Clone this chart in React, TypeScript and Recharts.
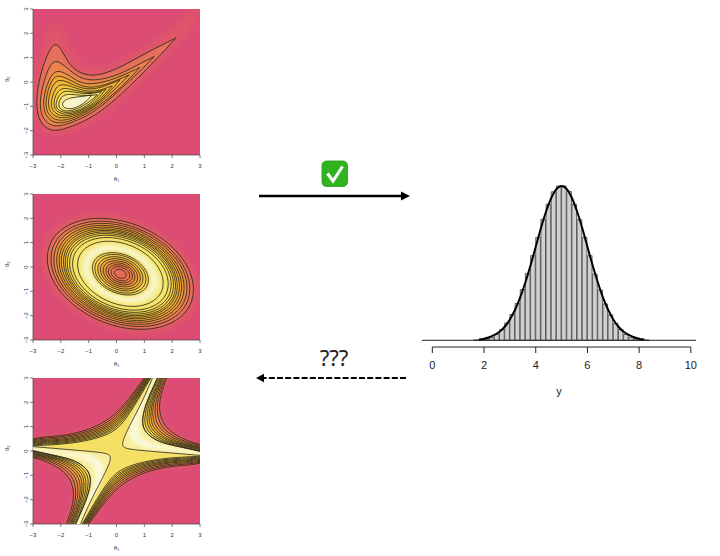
import React from "react";
import {
  Bar,
  CartesianGrid,
  ComposedChart,
  Line,
  ReferenceLine,
  Scatter,
  ScatterChart,
  XAxis,
  YAxis,
} from "recharts";

type Pair = [number, number];
type Contour = { pairs: Pair[]; fill: string; outline?: boolean; blur?: number };

const thetaTicks = [-3, -2, -1, 0, 1, 2, 3];

// soft halo under the top panel contours
const bananaGlow: Pair[] = [[3.3,3.3],[3.0,3.3],[2.0,2.1],[1.2,1.6],[.3,.9],[-.9,.4],[-1.6,1.0],[-1.9,2.0],[-2.2,2.6],[-2.5,2.0],[-3.0,.2],[-3.1,-1.2],[-2.6,-2.2],[-1.8,-2.2],[-.3,-1.3],[1.2,.4],[2.3,1.6]];
// top panel, outer contour first, tips listed three times so they stay sharp
const bananaContours: Pair[][] = [
  [[2.13,1.81],[2.13,1.81],[2.13,1.81],[1.44,1.42],[.84,1.05],[.25,.68],[-.35,.36],[-.95,.23],[-1.43,.43],[-1.73,.78],[-1.97,1.33],[-2.17,1.62],[-2.39,1.39],[-2.63,.71],[-2.81,-.05],[-2.89,-.87],[-2.81,-1.49],[-2.57,-1.90],[-2.21,-2.03],[-1.79,-1.90],[-1.07,-1.59],[-.35,-1.03],[.37,-.30],[1.08,.52],[1.80,1.37]],
  [[1.35,1.05],[1.35,1.05],[1.35,1.05],[.84,.75],[.25,.39],[-.35,.14],[-.95,.05],[-1.37,.20],[-1.73,.53],[-2.03,.82],[-2.25,.88],[-2.45,.57],[-2.65,-.12],[-2.77,-.87],[-2.69,-1.42],[-2.45,-1.74],[-2.15,-1.84],[-1.73,-1.72],[-1.07,-1.42],[-.35,-.84],[.37,-.05],[.96,.57]],
  [[.84,.60],[.84,.60],[.84,.60],[.37,.34],[-.23,.06],[-.83,-.10],[-1.31,-.05],[-1.73,.30],[-2.09,.49],[-2.33,.34],[-2.53,-.19],[-2.65,-.87],[-2.57,-1.35],[-2.33,-1.63],[-2.03,-1.71],[-1.61,-1.59],[-1.01,-1.28],[-.29,-.69],[.37,.02]],
  [[.46,.30],[.46,.30],[.46,.30],[0,.06],[-.59,-.19],[-1.13,-.25],[-1.61,.05],[-2.03,.28],[-2.27,.20],[-2.45,-.25],[-2.56,-.87],[-2.49,-1.28],[-2.27,-1.53],[-1.97,-1.60],[-1.55,-1.49],[-.95,-1.17],[-.29,-.56],[.19,-.02]],
  [[.13,.09],[.13,.09],[.13,.09],[-.29,-.12],[-.83,-.32],[-1.31,-.25],[-1.73,-.01],[-2.03,.10],[-2.23,-.01],[-2.39,-.39],[-2.47,-.90],[-2.39,-1.22],[-2.21,-1.42],[-1.91,-1.50],[-1.49,-1.39],[-.89,-1.08],[-.35,-.53]],
  [[-.15,-.16],[-.15,-.16],[-.15,-.16],[-.59,-.35],[-1.07,-.41],[-1.55,-.21],[-1.91,-.08],[-2.15,-.16],[-2.29,-.53],[-2.37,-.91],[-2.29,-1.17],[-2.13,-1.35],[-1.85,-1.41],[-1.43,-1.31],[-.89,-1.01],[-.47,-.57]],
  [[-.38,-.30],[-.38,-.30],[-.38,-.30],[-.83,-.46],[-1.31,-.41],[-1.73,-.25],[-2.03,-.27],[-2.19,-.53],[-2.27,-.90],[-2.20,-1.15],[-2.03,-1.28],[-1.79,-1.34],[-1.37,-1.23],[-.89,-.94],[-.59,-.60]],
  [[-.53,-.39],[-.53,-.39],[-.53,-.39],[-.95,-.50],[-1.37,-.45],[-1.73,-.36],[-1.97,-.41],[-2.13,-.67],[-2.19,-.94],[-2.13,-1.12],[-1.97,-1.23],[-1.73,-1.27],[-1.31,-1.15],[-.95,-.90],[-.69,-.60]],
  [[-.68,-.52],[-.68,-.52],[-1.07,-.57],[-1.49,-.52],[-1.81,-.49],[-2.01,-.63],[-2.09,-.90],[-2.05,-1.08],[-1.91,-1.19],[-1.67,-1.20],[-1.31,-1.06],[-.95,-.80]],
  [[-.89,-.53],[-.89,-.53],[-1.25,-.60],[-1.67,-.64],[-1.91,-.78],[-1.96,-.94],[-1.87,-1.08],[-1.61,-1.12],[-1.31,-.98],[-1.05,-.78]],
];
const bananaFills = ["#e4705c", "#ea8450", "#ee9840", "#f0a838", "#f2b838", "#f4c63c", "#f5d346", "#f5de58", "#f6ea84", "#f8f4cc"];

// middle panel
const ringGlow: Pair[] = [[3.01,-2.05],[3.08,-.05],[1.43,1.80],[-.98,2.44],[-2.73,1.49],[-2.80,-.51],[-1.15,-2.36],[1.26,-3.0]];
const ringOuter: Pair[][] = [
  [[2.80,-1.92],[2.86,-.07],[1.33,1.65],[-.90,2.24],[-2.52,1.36],[-2.58,-.49],[-1.05,-2.21],[1.18,-2.80]],
  [[2.67,-1.84],[2.72,-.08],[1.27,1.55],[-.85,2.11],[-2.39,1.28],[-2.44,-.48],[-.99,-2.11],[1.13,-2.67]],
  [[2.56,-1.77],[2.62,-.09],[1.22,1.48],[-.81,2.01],[-2.28,1.21],[-2.34,-.47],[-.94,-2.04],[1.09,-2.57]],
  [[2.46,-1.71],[2.51,-.10],[1.18,1.40],[-.77,1.92],[-2.18,1.15],[-2.23,-.46],[-.90,-1.96],[1.05,-2.48]],
  [[2.37,-1.66],[2.42,-.10],[1.14,1.34],[-.73,1.84],[-2.09,1.10],[-2.14,-.46],[-.86,-1.90],[1.01,-2.40]],
  [[2.29,-1.61],[2.34,-.11],[1.10,1.28],[-.70,1.76],[-2.01,1.05],[-2.06,-.45],[-.82,-1.84],[.98,-2.32]],
  [[2.21,-1.56],[2.26,-.12],[1.07,1.23],[-.67,1.69],[-1.93,1.00],[-1.98,-.44],[-.79,-1.79],[.95,-2.25]],
  [[2.15,-1.52],[2.19,-.12],[1.04,1.18],[-.65,1.62],[-1.87,.96],[-1.91,-.44],[-.76,-1.74],[.93,-2.18]],
  [[2.07,-1.47],[2.12,-.13],[1.01,1.12],[-.62,1.55],[-1.79,.91],[-1.84,-.43],[-.73,-1.68],[.90,-2.11]],
  [[1.99,-1.42],[2.03,-.13],[.97,1.06],[-.58,1.47],[-1.71,.86],[-1.75,-.43],[-.69,-1.62],[.86,-2.03]],
  [[1.88,-1.35],[1.92,-.14],[.92,.98],[-.54,1.37],[-1.60,.79],[-1.64,-.42],[-.64,-1.54],[.82,-1.93]],
  [[1.70,-1.24],[1.73,-.16],[.84,.85],[-.47,1.20],[-1.42,.68],[-1.45,-.40],[-.56,-1.41],[.75,-1.76]],
];
const ringOuterFills = ["#e4705c", "#e87c52", "#ec8c44", "#ee9c3a", "#f0aa36", "#f2b636", "#f4c23a", "#f5cc42", "#f5d64e", "#f5de5c", "#f5e468", "#f5e878"];
// colour steps of the pale band, no line drawn in the picture here
const ringBand: Pair[][] = [
  [[1.58,-1.17],[1.61,-.17],[.78,.76],[-.42,1.08],[-1.30,.61],[-1.33,-.39],[-.50,-1.32],[.70,-1.64]],
  [[1.44,-1.08],[1.47,-.18],[.72,.67],[-.37,.95],[-1.16,.52],[-1.19,-.38],[-.44,-1.23],[.65,-1.51]],
  [[1.31,-1.00],[1.34,-.19],[.66,.57],[-.32,.83],[-1.03,.44],[-1.06,-.37],[-.38,-1.13],[.60,-1.39]],
  [[1.23,-.95],[1.26,-.19],[.63,.51],[-.29,.75],[-.95,.39],[-.98,-.37],[-.35,-1.07],[.57,-1.31]],
];
const ringBandFills = ["#f7f0a8", "#f8f5d0", "#f7f0a8", "#f5e680"];
const ringInner: Pair[][] = [
  [[1.16,-.91],[1.18,-.20],[.59,.46],[-.26,.68],[-.88,.35],[-.90,-.36],[-.31,-1.02],[.54,-1.24]],
  [[1.07,-.85],[1.09,-.21],[.56,.40],[-.22,.60],[-.79,.29],[-.81,-.35],[-.28,-.96],[.50,-1.16]],
  [[.96,-.79],[.98,-.21],[.51,.32],[-.18,.50],[-.68,.23],[-.70,-.35],[-.23,-.88],[.46,-1.06]],
  [[.87,-.73],[.88,-.22],[.46,.25],[-.14,.41],[-.59,.17],[-.60,-.34],[-.18,-.81],[.42,-.97]],
  [[.77,-.67],[.78,-.23],[.42,.18],[-.11,.31],[-.49,.11],[-.50,-.33],[-.14,-.74],[.39,-.87]],
  [[.67,-.61],[.68,-.24],[.38,.11],[-.07,.22],[-.39,.05],[-.40,-.32],[-.10,-.67],[.35,-.78]],
  [[.58,-.55],[.59,-.25],[.34,.04],[-.03,.13],[-.30,-.01],[-.31,-.31],[-.06,-.60],[.31,-.69]],
  [[.48,-.49],[.49,-.25],[.29,-.03],[.01,.04],[-.20,-.07],[-.21,-.31],[-.01,-.53],[.27,-.60]],
  [[.36,-.41],[.36,-.26],[.24,-.12],[.05,-.07],[-.08,-.15],[-.08,-.30],[.04,-.44],[.23,-.49]],
];
const ringInnerFills = ["#f5d858", "#f4cc4a", "#f2bc40", "#f0a83a", "#ee983e", "#ec8846", "#ea7c4c", "#e87252", "#e66a58"];

// bottom panel: upper-left branch of each level, left edge to top edge
const crossUpperLeft: Pair[][] = [
  [[-3.4,.53],[-2.15,.60],[-1.43,.73],[-.71,1.01],[-.11,1.42],[.43,2.11],[.99,3],[1.25,3.4]],
  [[-3.4,.48],[-2.15,.55],[-1.39,.68],[-.66,.95],[-.08,1.35],[.46,2.06],[1.03,3],[1.28,3.4]],
  [[-3.4,.44],[-2.15,.50],[-1.36,.63],[-.62,.90],[-.04,1.28],[.49,2.02],[1.06,3],[1.31,3.4]],
  [[-3.4,.40],[-2.15,.45],[-1.33,.58],[-.58,.85],[-.01,1.22],[.51,1.98],[1.09,3],[1.33,3.4]],
  [[-3.4,.36],[-2.15,.41],[-1.30,.54],[-.54,.80],[.01,1.17],[.53,1.94],[1.12,3],[1.36,3.4]],
  [[-3.4,.32],[-2.15,.37],[-1.27,.50],[-.51,.76],[.04,1.11],[.55,1.91],[1.15,3],[1.38,3.4]],
  [[-3.4,.29],[-2.15,.33],[-1.25,.46],[-.47,.71],[.06,1.06],[.57,1.87],[1.17,3],[1.40,3.4]],
  [[-3.4,.25],[-2.15,.29],[-1.22,.42],[-.44,.67],[.09,1.01],[.60,1.84],[1.20,3],[1.43,3.4]],
  [[-3.4,.21],[-2.15,.25],[-1.19,.38],[-.40,.62],[.12,.95],[.62,1.80],[1.23,3],[1.45,3.4]],
];
// upper-right branch of each level, top edge to right edge
const crossUpperRight: Pair[][] = [
  [[1.95,3.4],[1.80,3],[1.59,2.31],[1.51,1.70],[1.68,1.01],[2.28,.53],[3,.25],[3.4,.20]],
  [[1.90,3.4],[1.75,3],[1.52,2.29],[1.43,1.68],[1.56,.99],[2.15,.51],[2.87,.24],[3.4,.16]],
  [[1.86,3.4],[1.70,3],[1.46,2.27],[1.35,1.66],[1.45,.97],[2.04,.49],[2.74,.24],[3.4,.11]],
  [[1.82,3.4],[1.66,3],[1.40,2.26],[1.27,1.64],[1.35,.95],[1.93,.47],[2.62,.23],[3.4,.07]],
  [[1.78,3.4],[1.62,3],[1.35,2.24],[1.21,1.62],[1.26,.93],[1.83,.45],[2.51,.23],[3.4,.04]],
  [[1.74,3.4],[1.59,3],[1.30,2.23],[1.15,1.60],[1.17,.92],[1.73,.44],[2.42,.22],[3.4,.01]],
  [[1.71,3.4],[1.55,3],[1.25,2.21],[1.08,1.59],[1.09,.90],[1.64,.42],[2.32,.22],[3.4,-.03]],
  [[1.67,3.4],[1.51,3],[1.19,2.20],[1.02,1.57],[.99,.89],[1.54,.41],[2.21,.21],[3.4,-.06]],
  [[1.63,3.4],[1.47,3],[1.14,2.18],[.95,1.55],[.90,.87],[1.44,.39],[2.10,.21],[3.4,-.10]],
];
// pale ridge above the saddle, upper right half, and its bright core
const crossRidge: Pair[] = [[1.63,3.4],[1.47,3],[1.14,2.18],[.95,1.55],[.90,.87],[1.44,.39],[2.10,.21],[3.4,-.10],[3.4,-.22],[3,-.18],[2.04,-.09],[1.20,-.01],[.34,.08],[.19,.21],[.25,.53],[.55,1.22],[.90,1.97],[1.30,3],[1.42,3.4]];
const crossCore: Pair[] = [[1.50,3.4],[1.40,3],[1.05,2.15],[.86,1.55],[.72,.85],[.95,.42],[1.6,.22],[2.4,.08],[3.4,-.12],[3.4,-.2],[2.4,-.04],[1.6,.05],[.9,.13],[.42,.50],[.44,1.0],[.66,1.6],[.98,2.2],[1.32,3],[1.44,3.4]];
const crossFills = ["#e4705c", "#ea8450", "#ee9840", "#f0a838", "#f2b838", "#f4c63c", "#f5d346", "#f5da54", "#f6e064"];
const ridgeFill = "#f7eea0";
const coreFill = "#faf8d4";
const glowFill = "#df5868";

// histogram, bin midpoints and heights
const binMids = [1.7, 1.9, 2.1, 2.3, 2.5, 2.7, 2.9, 3.1, 3.3, 3.5, 3.7, 3.9, 4.1, 4.3, 4.5, 4.7, 4.9, 5.1, 5.3, 5.5, 5.7, 5.9, 6.1, 6.3, 6.5, 6.7, 6.9, 7.1, 7.3, 7.5, 7.7, 7.9, 8.1, 8.3];
const binHeights = [.0009, .0017, .0035, .007, .015, .028, .045, .067, .095, .131, .173, .219, .266, .313, .352, .384, .399, .399, .385, .352, .312, .266, .219, .171, .130, .094, .066, .044, .028, .015, .007, .0035, .0017, .0009];
const curveX = [1.8, 2, 2.2, 2.4, 2.6, 2.8, 3, 3.2, 3.4, 3.6, 3.8, 4, 4.2, 4.4, 4.6, 4.8, 5, 5.2, 5.4, 5.6, 5.8, 6, 6.2, 6.4, 6.6, 6.8, 7, 7.2, 7.4, 7.6, 7.8, 8, 8.2];
const curveY = [.002, .004, .008, .014, .022, .035, .054, .079, .111, .150, .194, .242, .290, .333, .368, .391, .399, .391, .368, .333, .290, .242, .194, .150, .111, .079, .054, .035, .022, .014, .008, .004, .002];
const yTicks = [0, 2, 4, 6, 8, 10];

const binRows = binMids.map((x, i) => ({ x, bin: binHeights[i] }));
const curveRows = curveX.map((x, i) => ({ x, curve: curveY[i] }));

const toPoints = (pairs: Pair[]) => pairs.map(([x, y]) => ({ x, y }));
const flip = (pairs: Pair[]): Pair[] => pairs.map(([x, y]) => [-x, -y]);
const filled = (lists: Pair[][], fills: string[]): Contour[] =>
  lists.map((pairs, i) => ({ pairs, fill: fills[i], outline: true }));

const crossContours: Pair[][] = crossUpperLeft.map((left, i) => [
  ...left,
  ...crossUpperRight[i],
  ...flip(left),
  ...flip(crossUpperRight[i]),
]);

const bananaLayers: Contour[] = [
  { pairs: bananaGlow, fill: glowFill, blur: 5 },
  ...filled(bananaContours, bananaFills),
];
const ringLayers: Contour[] = [
  { pairs: ringGlow, fill: glowFill, blur: 3 },
  ...filled(ringOuter, ringOuterFills),
  ...ringBand.map((pairs, i) => ({ pairs, fill: ringBandFills[i] })),
  ...filled(ringInner, ringInnerFills),
];
const crossLayers: Contour[] = [
  { pairs: crossContours[0], fill: glowFill, blur: 4 },
  ...filled(crossContours, crossFills),
  { pairs: crossRidge, fill: ridgeFill, outline: true },
  { pairs: flip(crossRidge), fill: ridgeFill, outline: true },
  { pairs: crossCore, fill: coreFill, blur: 1.5 },
  { pairs: flip(crossCore), fill: coreFill, blur: 1.5 },
];

const minusTick = (v: number) => String(v).replace("-", "\u2212");
const noDot = () => <g />;

function RotatedTick({ x, y, payload }: any) {
  return (
    <text x={x} y={y} fontSize={6} fill="#333" textAnchor="middle" fontFamily="Liberation Sans" transform={`rotate(-90 ${x} ${y})`}>
      {minusTick(payload.value)}
    </text>
  );
}

function ContourPanel({ top, layers }: { top: number; layers: Contour[] }) {
  return (
    <div style={{ position: "absolute", left: 0, top }}>
      <ScatterChart width={210} height={185} margin={{ top: 9, right: 10, bottom: 4, left: 3 }}>
        <CartesianGrid horizontal={false} vertical={false} fill="#dc4c75" fillOpacity={1} />
        <XAxis
          type="number"
          dataKey="x"
          domain={[-3, 3]}
          allowDataOverflow
          ticks={thetaTicks}
          interval={0}
          height={26}
          tickSize={3}
          tickMargin={6}
          stroke="#444"
          strokeWidth={0.7}
          tick={{ fontSize: 6, fill: "#333", fontFamily: "Liberation Sans" }}
          tickFormatter={minusTick}
          label={{ value: "θ₁", position: "insideBottom", offset: 0, fontSize: 6, fill: "#333", fontFamily: "Liberation Sans" }}
        />
        <YAxis
          type="number"
          dataKey="y"
          domain={[-3, 3]}
          allowDataOverflow
          ticks={thetaTicks}
          interval={0}
          width={30}
          tickSize={3}
          stroke="#444"
          strokeWidth={0.7}
          tick={RotatedTick}
          label={{ value: "θ₂", angle: -90, position: "insideLeft", offset: 4, fontSize: 6, fill: "#333", fontFamily: "Liberation Sans" }}
        />
        {layers.map((c, i) => (
          <Scatter
            key={`fill-${i}`}
            data={toPoints(c.pairs)}
            isAnimationActive={false}
            shape={noDot}
            line={{ stroke: "none", fill: c.fill, style: { filter: `blur(${c.blur ?? 1.2}px)` } }}
            lineJointType="basisClosed"
          />
        ))}
        {layers
          .filter((c) => c.outline)
          .map((c, i) => (
            <Scatter
              key={`line-${i}`}
              data={toPoints(c.pairs)}
              isAnimationActive={false}
              shape={noDot}
              line={{ stroke: "#262018", strokeWidth: 0.8, fill: "none" }}
              lineJointType="basisClosed"
            />
          ))}
      </ScatterChart>
    </div>
  );
}

function Histogram() {
  return (
    <div style={{ position: "absolute", left: 412, top: 175 }}>
      <ComposedChart
        width={294}
        height={225}
        data={binRows}
        margin={{ top: 0, right: 10, bottom: 0, left: 10 }}
      >
        <XAxis
          type="number"
          dataKey="x"
          domain={[-0.4, 10.2]}
          ticks={yTicks}
          interval={0}
          height={53}
          axisLine={false}
          tickSize={6}
          tickMargin={8}
          stroke="#222"
          tick={{ fontSize: 11, fill: "#222", fontFamily: "Liberation Sans" }}
          label={{ value: "y", position: "insideBottom", offset: 5, fontSize: 11, fill: "#222", fontFamily: "Liberation Sans" }}
        />
        <XAxis xAxisId="curve" hide type="number" dataKey="x" domain={[-0.4, 10.2]} />
        <YAxis hide type="number" domain={[-0.01736, 0.4275]} />
        <Bar dataKey="bin" barSize={5.17} fill="#d0d0d0" stroke="#444" strokeWidth={0.8} isAnimationActive={false} />
        <ReferenceLine y={0} stroke="#222" strokeWidth={1} />
        <ReferenceLine segment={[{ x: 0, y: -0.01736 }, { x: 10, y: -0.01736 }]} stroke="#222" strokeWidth={1} />
        <Line data={curveRows} xAxisId="curve" dataKey="curve" type="monotone" dot={false} stroke="#000" strokeWidth={2} isAnimationActive={false} />
      </ComposedChart>
    </div>
  );
}

function Arrows() {
  return (
    <svg width={720} height={556} style={{ position: "absolute", left: 0, top: 0, pointerEvents: "none" }}>
      <line x1={259} y1={196} x2={403} y2={196} stroke="#000" strokeWidth={2.6} />
      <polygon points="410,196 401,191.5 401,200.5" fill="#000" />
      <line x1={406} y1={378} x2={262} y2={378} stroke="#000" strokeWidth={2.2} strokeDasharray="6 2.2" />
      <polygon points="256,378 264,373.8 264,382.2" fill="#000" />
      <rect x={322} y={161} width={25.5} height={25.5} rx={4.5} fill="#2fb41f" stroke="#1f9a16" strokeWidth={0.8} />
      <path d="M327.5 173.5 L333 181 L342.5 166.5" fill="none" stroke="#fff" strokeWidth={3} />
      <text x={334} y={366} fontSize={22} fill="#222" textAnchor="middle" fontFamily="Noto Sans">
        ???
      </text>
    </svg>
  );
}

export default function App() {
  return (
    <div style={{ position: "absolute", left: 0, top: 0, width: 720, height: 556, background: "#fff" }}>
      <ContourPanel top={0} layers={bananaLayers} />
      <ContourPanel top={185} layers={ringLayers} />
      <ContourPanel top={369} layers={crossLayers} />
      <Histogram />
      <Arrows />
    </div>
  );
}
